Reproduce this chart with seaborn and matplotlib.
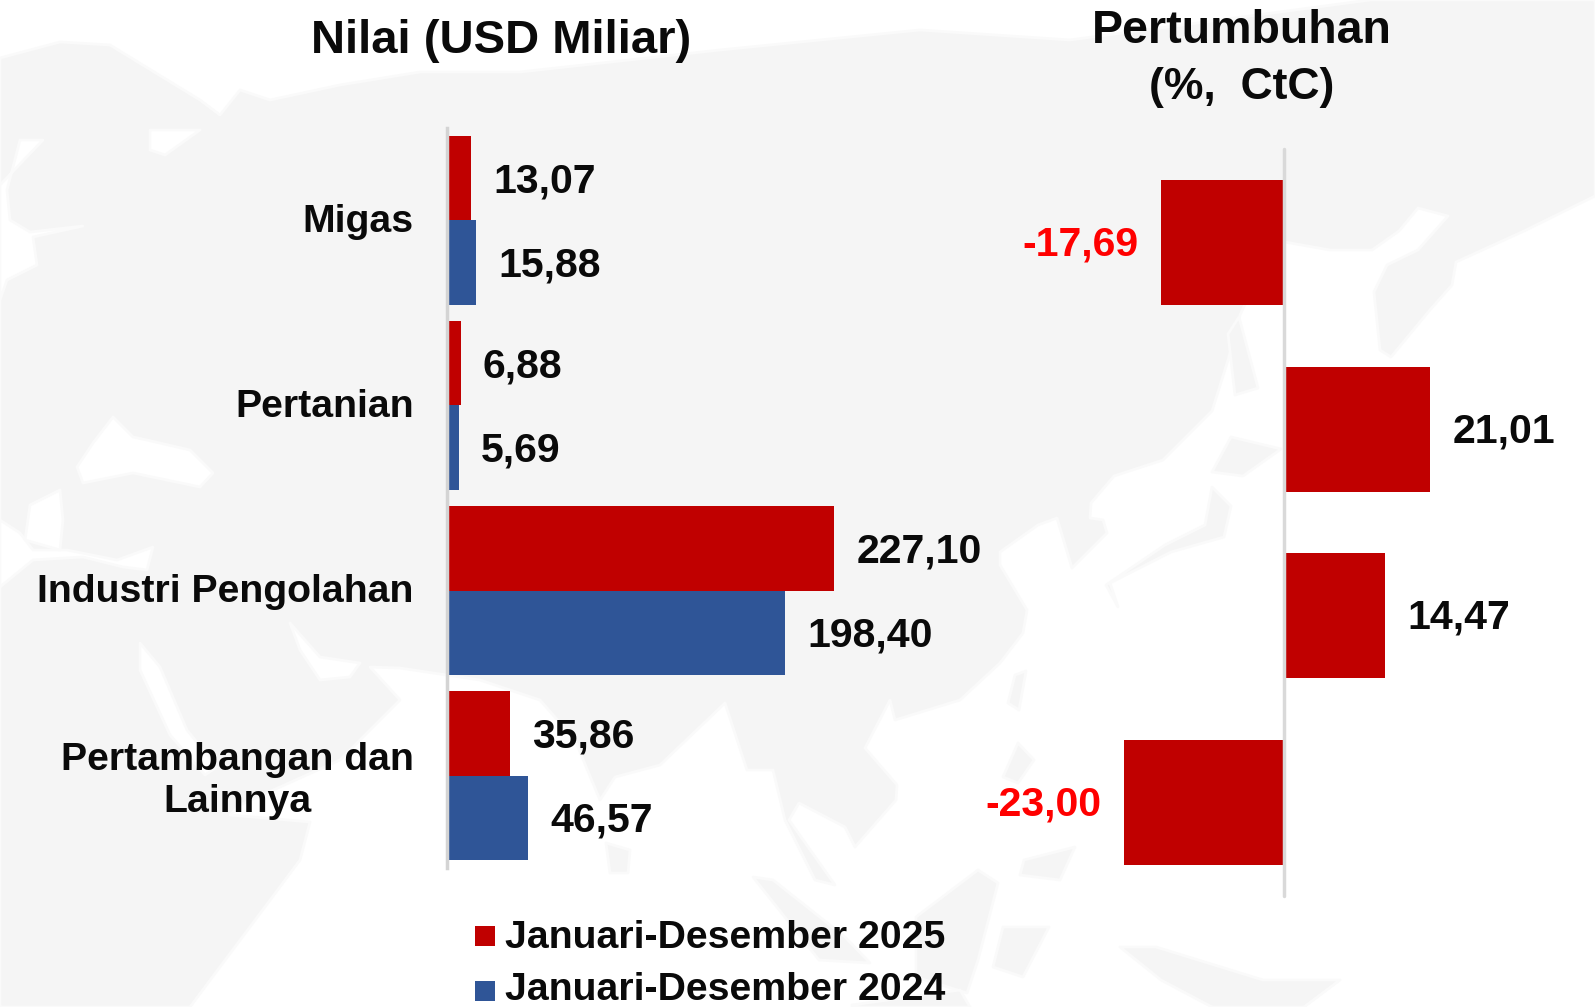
import matplotlib
matplotlib.use("Agg")
import matplotlib.pyplot as plt
from matplotlib.patches import Rectangle, Polygon
from matplotlib.transforms import ScaledTranslation
import seaborn as sns
import pandas as pd

sns.set_style("white")
plt.rcParams['font.family'] = ['Liberation Sans', 'DejaVu Sans']

categories = ["Migas", "Pertanian", "Industri Pengolahan", "Pertambangan dan\nLainnya"]
val_2025 = [13.07, 6.88, 227.10, 35.86]
val_2024 = [15.88, 5.69, 198.40, 46.57]
growth = [-17.69, 21.01, 14.47, -23.00]
series_names = ["Januari-Desember 2025", "Januari-Desember 2024"]
RED, BLUE = "#C00000", "#2F5597"
INK = "#0A0A0A"
LAND, SOFT = "#F5F5F5", "#FAFAFA"
W, H = 1595, 1007

# faint world-map watermark behind the chart (decoration, rough pixel outlines)
land_outline = [(0,58),(60,42),(110,45),(200,100),(220,115),(240,90),(270,100),(340,85),(420,72),(520,72),
    (720,50),(920,30),(1070,40),(1370,0),(1595,0),(1595,196),(1524,231),(1456,262),(1452,285),(1429,311),
    (1391,357),(1380,350),(1374,292),(1387,265),(1418,250),(1448,216),(1418,208),(1399,231),(1372,250),
    (1330,250),(1285,242),(1270,250),(1240,315),(1228,360),(1212,411),(1163,460),(1114,476),(1091,503),
    (1090,518),(1103,520),(1107,533),(1072,568),(1057,518),(1038,525),(1000,552),(1000,565),(1027,610),
    (1023,633),(1000,663),(960,700),(895,720),(890,700),(865,748),(897,785),(896,800),(855,847),(845,827),
    (799,803),(789,820),(835,885),(815,880),(785,820),(773,770),(747,770),(725,703),(660,765),(615,777),
    (600,800),(575,740),(540,700),(480,680),(400,668),(370,667),(400,700),(340,760),(240,805),(230,815),
    (310,822),(300,860),(190,1007),(0,1007)]
sea_patches = [
    [(140,643),(160,667),(187,730),(217,767),(205,775),(170,735),(140,670)],
    [(290,623),(320,657),(360,663),(350,677),(320,680),(300,650)],
    [(0,520),(20,533),(33,550),(67,550),(117,560),(153,547),(147,570),(123,567),(83,557),(33,560),(0,587)],
    [(30,505),(60,490),(63,520),(60,550),(25,540)],
    [(113,417),(93,443),(77,467),(83,483),(133,473),(200,487),(213,473),(190,450),(147,440),(133,437)],
    [(43,140),(20,140),(7,190),(10,220),(30,232),(83,226),(33,237),(37,265),(7,280),(0,300),(0,185)],
    [(150,130),(200,130),(165,155),(150,150)],
]
islands = [
    [(1239,317),(1258,388),(1235,395),(1228,334)],
    [(1231,437),(1281,449),(1243,476),(1212,472)],
    [(1212,487),(1231,506),(1224,537),(1171,552),(1110,583),(1118,607),(1106,585),(1165,545),(1205,525)],
    [(1026,671),(1019,710),(1008,703),(1015,675)],
    [(1018,743),(1034,760),(1018,783),(1003,777)],
    [(1024,860),(1075,847),(1060,880),(1020,875)],
    [(753,877),(773,880),(845,937),(870,963),(819,960)],
    [(916,917),(978,870),(998,883),(978,960),(967,993),(916,977)],
    [(1003,927),(1049,927),(1023,977),(993,967)],
    [(1120,947),(1156,947),(1263,980),(1340,980),(1304,1007),(1212,1007),(1161,980)],
    [(852,1005),(960,990),(970,1007),(852,1007)],
    [(606,843),(630,850),(628,873),(610,873)],
]

def fmt(v):
    return f"{v:.2f}".replace(".", ",")

fig = plt.figure(figsize=(W/100, H/100), dpi=100, facecolor="white")

bg = fig.add_axes([0, 0, 1, 1], zorder=-5)
bg.set_xlim(0, W); bg.set_ylim(H, 0); bg.axis("off")
bg.add_patch(Polygon(land_outline, closed=True, fc=LAND, ec=SOFT, lw=2, joinstyle="round"))
for p in sea_patches:
    bg.add_patch(Polygon(p, closed=True, fc="white", ec=SOFT, lw=2, joinstyle="round"))
for p in islands:
    bg.add_patch(Polygon(p, closed=True, fc=LAND, ec=SOFT, lw=2, joinstyle="round"))

def axpx(x0, y0, x1, y1):
    return fig.add_axes([x0/W, 1-y1/H, (x1-x0)/W, (y1-y0)/H])

# left panel
ax = axpx(449, 128, 1001, 868)
df = pd.DataFrame({"cat": categories*2, "val": val_2025+val_2024,
                   "s": [series_names[0]]*4+[series_names[1]]*4})
sns.barplot(data=df, y="cat", x="val", hue="s", palette=[RED, BLUE], ax=ax,
            gap=0, width=0.91, legend=False, saturation=1, dodge=True, orient="h",
            linewidth=0, edgecolor="none")
ax.set_xlim(0, 552/1.695)
ax.set_ylim(3.5, -0.5)
ax.set_xlabel(""); ax.set_ylabel("")
ax.set_xticks([])
ax.patch.set_alpha(0)
for s in ["top", "right", "bottom"]:
    ax.spines[s].set_visible(False)
ax.spines["left"].set_color("#D4D4D4")
ax.spines["left"].set_linewidth(2.5)
ax.spines["left"].set_position(("outward", 1.4))
ax.tick_params(axis="y", length=0, pad=24)
ax.set_yticks(range(4))
ax.set_yticklabels(categories, fontsize=28.3, fontweight="bold", color=INK, linespacing=1.25)
for c in ax.get_yticklabels():
    c.set_ha("right")
    c.set_multialignment("center")
    c.set_transform(c.get_transform() + ScaledTranslation(0, 2/100, fig.dpi_scale_trans))
for cont, vals in zip(ax.containers, [val_2025, val_2024]):
    texts = ax.bar_label(cont, labels=[fmt(v) for v in vals], padding=16, fontsize=29.5,
                         fontweight="bold", color=INK)
    for t in texts:
        t.xyann = (t.xyann[0], -2)

# right panel
ax2 = axpx(1000, 149, 1595, 896)
sns.barplot(x=growth, y=categories, color=RED, saturation=1, width=0.67, ax=ax2, orient="h",
            linewidth=0, edgecolor="none")
ax2.set_xlim(-(1284-1000)/6.95, (1595-1284)/6.95)
ax2.set_ylim(3.5, -0.5)
ax2.axis("off")
ax2.plot([0, 0], [-0.5, 3.5], color="#D9D9D9", lw=2.5, clip_on=False, zorder=5)
for g, y in zip(growth, range(4)):
    ax2.annotate(fmt(g), (g, y), xytext=(-23 if g < 0 else 23, -2), textcoords="offset pixels",
                 ha="right" if g < 0 else "left", va="center", fontsize=29.5, fontweight="bold",
                 color="#FF0000" if g < 0 else INK)

fig.text(501/W, 1-41/H, "Nilai (USD Miliar)", ha="center", va="center", fontsize=34, fontweight="bold", color=INK)
fig.text(1242/W, 1-31/H, "Pertumbuhan", ha="center", va="center", fontsize=33.5, fontweight="bold", color=INK)
fig.text(1242/W, 1-87/H, "(%,  CtC)", ha="center", va="center", fontsize=32, fontweight="bold", color=INK)

for y, ty, col, name in zip([936, 991], [938, 990], [RED, BLUE], series_names):
    fig.add_artist(Rectangle((475/W, 1-(y+10)/H), 20/W, 20/H, transform=fig.transFigure, color=col, lw=0))
    fig.text(505/W, 1-ty/H, name, ha="left", va="center", fontsize=28.3, fontweight="bold", color=INK)

fig.savefig("out.png", dpi=100, facecolor="white")
